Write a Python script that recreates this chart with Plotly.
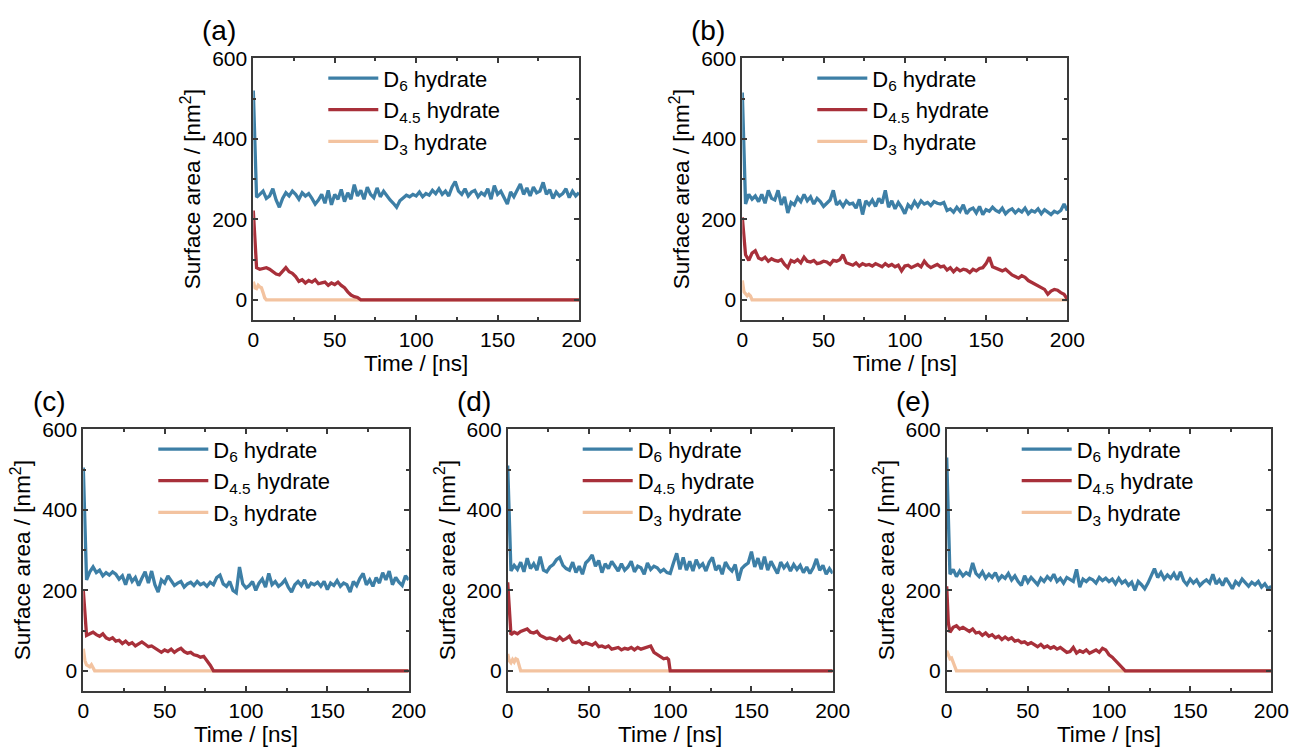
import plotly.graph_objects as go

# ---------------- data ----------------
PANELS = ["(a)", "(b)", "(c)", "(d)", "(e)"]
SERIES_NAMES = ["D<sub>6</sub> hydrate", "D<sub>4.5</sub> hydrate", "D<sub>3</sub> hydrate"]
X_TICKS = [0, 50, 100, 150, 200]
Y_TICKS = [0, 200, 400, 600]

TIME_FULL = [0, 1] + list(range(2, 201, 2))

A_D6 = [520, 380,
        255, 262, 270, 252, 258, 276, 248, 230, 252, 266,
        258, 270, 262, 250, 266, 258, 264, 252, 238, 248,
        262, 240, 272, 236, 262, 250, 274, 244, 266, 250,
        286, 258, 272, 250, 280, 262, 254, 278, 256, 270,
        258, 248, 240, 230, 246, 252, 260, 256, 262, 258,
        268, 256, 264, 260, 272, 264, 276, 262, 270, 258,
        280, 294, 270, 262, 276, 258, 268, 272, 256, 266,
        260, 276, 250, 284, 262, 270, 254, 238, 268, 256,
        272, 288, 262, 278, 258, 280, 266, 270, 292, 262,
        274, 252, 268, 258, 264, 276, 254, 270, 258, 266]
A_D45_T = [0, 1] + list(range(2, 67, 2)) + [200]
A_D45 = [222, 150,
         80, 76, 78, 80, 76, 70, 64, 62, 72, 80,
         70, 66, 58, 46, 50, 42, 48, 44, 50, 40,
         42, 44, 36, 42, 38, 44, 36, 30, 20, 12,
         8, 6, 0, 0]
A_D3_T = [0, 1, 2, 3, 4, 5, 6, 7, 8, 200]
A_D3 = [45, 30, 28, 36, 32, 30, 18, 5, 0, 0]

B_D6 = [515, 400,
        238, 262, 250, 258, 244, 262, 240, 272, 252, 248,
        272, 236, 256, 216, 242, 236, 254, 244, 262, 246,
        256, 238, 252, 244, 232, 240, 248, 272, 236, 244,
        232, 246, 238, 240, 228, 250, 212, 246, 236, 248,
        232, 252, 240, 272, 230, 246, 226, 242, 230, 214,
        236, 228, 244, 232, 246, 238, 242, 234, 244, 240,
        238, 242, 222, 226, 218, 230, 220, 236, 214, 224,
        228, 216, 232, 212, 224, 220, 230, 222, 218, 228,
        214, 222, 226, 216, 224, 218, 228, 214, 222, 218,
        226, 214, 224, 218, 212, 220, 216, 222, 238, 222]
B_D45_T = TIME_FULL
B_D45 = [205, 150,
         112, 98, 116, 122, 104, 100, 106, 96, 102, 98,
         96, 100, 88, 80, 98, 94, 100, 92, 106, 96,
         94, 98, 90, 92, 96, 94, 88, 98, 96, 100,
         112, 92, 90, 86, 92, 84, 90, 86, 88, 84,
         90, 86, 82, 90, 84, 88, 82, 86, 72, 84,
         86, 80, 84, 88, 82, 96, 86, 80, 84, 88,
         82, 84, 74, 80, 70, 78, 72, 76, 74, 68,
         76, 72, 78, 80, 90, 106, 82, 78, 74, 72,
         76, 68, 62, 58, 54, 60, 56, 48, 44, 40,
         36, 32, 26, 14, 22, 26, 24, 18, 14, 2]
B_D3_T = [0, 1, 2, 3, 4, 5, 6, 200]
B_D3 = [48, 20, 15, 10, 14, 10, 0, 0]

C_D6 = [505, 350,
        226, 246, 258, 244, 250, 236, 244, 238, 246, 240,
        228, 236, 214, 240, 222, 232, 212, 230, 246, 218,
        248, 214, 196, 226, 218, 236, 222, 212, 218, 222,
        208, 216, 220, 212, 222, 214, 218, 210, 220, 214,
        232, 238, 216, 210, 222, 200, 194, 258, 216, 206,
        212, 222, 200, 218, 228, 208, 242, 214, 222, 210,
        216, 226, 208, 196, 214, 222, 212, 226, 206, 218,
        214, 220, 210, 222, 202, 218, 212, 224, 210, 218,
        214, 196, 222, 212, 230, 242, 214, 226, 210, 232,
        218, 244, 226, 248, 214, 232, 220, 212, 236, 226]
C_D45_T = [0, 1] + list(range(2, 81, 2)) + [200]
C_D45 = [200, 130,
         88, 92, 96, 90, 86, 92, 82, 78, 82, 74,
         76, 68, 74, 66, 70, 62, 68, 72, 66, 60,
         62, 56, 50, 46, 52, 48, 54, 46, 52, 56,
         48, 44, 46, 40, 38, 34, 36, 26, 14, 0,
         0]
C_D3_T = [0, 1, 2, 3, 4, 5, 6, 7, 200]
C_D3 = [55, 25, 15, 12, 10, 15, 5, 0, 0]

D_D6 = [510, 350,
        248, 262, 252, 270, 246, 280, 254, 266, 250, 284,
        250, 246, 258, 264, 276, 282, 262, 254, 250, 270,
        244, 260, 240, 268, 276, 288, 260, 274, 244, 266,
        254, 272, 258, 248, 266, 250, 258, 272, 246, 260,
        256, 240, 268, 252, 260, 256, 246, 252, 244, 242,
        268, 292, 252, 282, 250, 272, 248, 276, 258, 266,
        248, 270, 282, 250, 262, 240, 270, 256, 248, 264,
        224, 254, 262, 268, 296, 258, 280, 252, 284, 250,
        272, 258, 242, 270, 256, 266, 248, 264, 252, 262,
        244, 258, 242, 256, 278, 250, 262, 240, 254, 242]
D_D45_T = [0, 1] + list(range(2, 99, 2)) + [99, 100, 200]
D_D45 = [220, 150,
         90, 96, 92, 98, 100, 104, 96, 94, 98, 88,
         84, 80, 82, 78, 76, 84, 76, 80, 86, 72,
         70, 74, 66, 70, 68, 64, 70, 60, 62, 58,
         62, 54, 56, 58, 52, 56, 54, 58, 52, 58,
         54, 56, 58, 62, 46, 40, 34, 30, 32,
         28, 0, 0]
D_D3_T = [0, 1, 2, 3, 4, 5, 6, 7, 8, 200]
D_D3 = [42, 25, 20, 28, 22, 30, 28, 15, 0, 0]

E_D6 = [530, 400,
        240, 252, 234, 248, 236, 244, 238, 268, 242, 234,
        246, 230, 240, 232, 244, 226, 236, 230, 242, 226,
        236, 222, 212, 236, 220, 232, 224, 214, 230, 222,
        234, 226, 240, 222, 230, 218, 232, 226, 222, 252,
        208, 228, 222, 230, 226, 218, 232, 224, 230, 222,
        228, 216, 230, 218, 224, 212, 220, 200, 222, 214,
        204, 218, 236, 254, 232, 244, 228, 238, 230, 242,
        226, 246, 224, 214, 228, 218, 226, 212, 220, 226,
        218, 240, 216, 226, 212, 230, 218, 204, 222, 214,
        228, 218, 210, 220, 214, 222, 208, 216, 204, 210]
E_D45_T = [0, 1] + list(range(2, 111, 2)) + [200]
E_D45 = [210, 120,
         96, 108, 112, 104, 108, 102, 98, 104, 94, 96,
         88, 94, 86, 90, 82, 86, 78, 84, 78, 82,
         74, 76, 70, 72, 66, 70, 64, 60, 66, 58,
         62, 56, 60, 54, 58, 52, 46, 48, 58, 44,
         50, 46, 52, 44, 48, 52, 46, 56, 52, 40,
         34, 26, 16, 8, 0,
         0]
E_D3_T = [0, 1, 2, 3, 4, 5, 6, 200]
E_D3 = [50, 38, 30, 32, 20, 10, 0, 0]

DATA = [
    (TIME_FULL, A_D6, A_D45_T, A_D45, A_D3_T, A_D3),
    (TIME_FULL, B_D6, B_D45_T, B_D45, B_D3_T, B_D3),
    (TIME_FULL, C_D6, C_D45_T, C_D45, C_D3_T, C_D3),
    (TIME_FULL, D_D6, D_D45_T, D_D45, D_D3_T, D_D3),
    (TIME_FULL, E_D6, E_D45_T, E_D45, E_D3_T, E_D3),
]

# ---------------- layout / style ----------------
W, H = 1292, 749
FONT = "'Liberation Sans', Arial, sans-serif"
COLORS = ["#3d7fa6", "#a8303a", "#f3c3a0"]
AXC = "#3a3a3a"
FS = 21
FS_TITLE = 22.5

# plot-area boxes in page pixels: left, right, top, bottom
BOXES = [
    (253.3, 579.0, 58.3, 320.0),
    (742.3, 1067.3, 58.3, 320.0),
    (83.3, 408.7, 429.3, 691.0),
    (507.7, 832.7, 429.3, 691.0),
    (946.7, 1271.3, 429.3, 691.0),
]

fig = go.Figure()

for i, (tb, vb, tr, vr, tp, vp) in enumerate(DATA):
    n = i + 1
    xa = "x" if n == 1 else f"x{n}"
    ya = "y" if n == 1 else f"y{n}"
    lg = "legend" if n == 1 else f"legend{n}"
    # draw order: blue, peach, red (red above peach); legend order via rank
    for (tt, vv, name, col, rank) in [
        (tb, vb, SERIES_NAMES[0], COLORS[0], 1),
        (tp, vp, SERIES_NAMES[2], COLORS[2], 3),
        (tr, vr, SERIES_NAMES[1], COLORS[1], 2),
    ]:
        fig.add_trace(go.Scatter(
            x=tt, y=vv, mode="lines", name=name,
            line=dict(color=col, width=3.3),
            xaxis=xa, yaxis=ya, legend=lg, legendrank=rank,
            showlegend=True, hoverinfo="skip",
        ))

common = dict(
    showline=True, linecolor=AXC, linewidth=1.8, mirror="allticks",
    ticks="inside", ticklen=5, tickwidth=1.5, tickcolor=AXC,
    showgrid=False, zeroline=False, automargin=False,
    tickfont=dict(family=FONT, size=FS, color="black"),
)

layout = dict(
    width=W, height=H, autosize=False,
    margin=dict(l=0, r=0, t=0, b=0, pad=0, autoexpand=False),
    paper_bgcolor="white", plot_bgcolor="white",
    font=dict(family=FONT, size=FS, color="black"),
    annotations=[],
)

for i, (l, r, t, b) in enumerate(BOXES):
    n = i + 1
    xk = "xaxis" if n == 1 else f"xaxis{n}"
    yk = "yaxis" if n == 1 else f"yaxis{n}"
    xa = "x" if n == 1 else f"x{n}"
    ya = "y" if n == 1 else f"y{n}"
    lk = "legend" if n == 1 else f"legend{n}"
    layout[xk] = dict(
        common, domain=[l / W, r / W], anchor=ya, range=[0, 200],
        tickmode="array", tickvals=X_TICKS,
        minor=dict(ticks="inside", ticklen=3, tickwidth=1.5, tickcolor=AXC,
                   dtick=25, tick0=0, showgrid=False),
        title=dict(text="Time / [ns]", font=dict(family=FONT, size=FS_TITLE), standoff=5),
    )
    layout[yk] = dict(
        common, domain=[1 - b / H, 1 - t / H], anchor=xa, range=[-50, 600],
        tickmode="array", tickvals=Y_TICKS,
        minor=dict(ticks="inside", ticklen=3, tickwidth=1.5, tickcolor=AXC,
                   dtick=100, tick0=0, showgrid=False),
        title=dict(text="Surface area / [nm<sup>2</sup>]",
                   font=dict(family=FONT, size=FS_TITLE), standoff=5),
    )
    layout[lk] = dict(
        x=(l + 70) / W, y=1 - (t - 1) / H, xanchor="left", yanchor="top",
        bgcolor="rgba(0,0,0,0)", borderwidth=0,
        font=dict(family=FONT, size=22, color="black"),
        tracegroupgap=0, itemwidth=50,
    )
    layout["annotations"].append(dict(
        text=PANELS[i], xref="paper", yref="paper",
        x=(l - 34) / W, y=1 - (t - 28) / H,
        xanchor="center", yanchor="middle", showarrow=False,
        font=dict(family=FONT, size=28, color="black"),
    ))

fig.update_layout(**layout)
fig.write_html(
    "out.html",
    config={"displayModeBar": False},
    post_script="document.body.style.margin='0';document.body.style.overflow='hidden';",
)
